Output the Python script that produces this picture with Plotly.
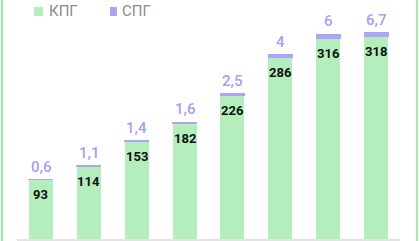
import plotly.graph_objects as go

categories = ["1", "2", "3", "4", "5", "6", "7", "8"]
kpg = [93, 114, 153, 182, 226, 286, 316, 318]
spg = [0.6, 1.1, 1.4, 1.6, 2.5, 4, 6, 6.7]
spg_labels = ["0,6", "1,1", "1,4", "1,6", "2,5", "4", "6", "6,7"]
series_names = ["КПГ", "СПГ"]

GREEN = "#b3eebc"
PURPLE = "#a9a6f6"
PURPLE_TXT = "#a4a0f2"
GREY_TXT = "#8c8c8c"

fig = go.Figure()
fig.add_bar(x=categories, y=kpg, name=series_names[0], marker=dict(color=GREEN, line=dict(width=0)))
fig.add_bar(x=categories, y=spg, name=series_names[1], marker=dict(color=PURPLE, line=dict(color=PURPLE, width=1)))

for i, (k, s, lab) in enumerate(zip(kpg, spg, spg_labels)):
    fig.add_annotation(x=i, y=k, text=str(k), showarrow=False, yshift=-15,
                       font=dict(family="Roboto", size=13, color="#111111", weight=700))
    fig.add_annotation(x=i, y=k + s, text=lab, showarrow=False, yshift=13,
                       font=dict(family="Roboto", size=15, color=PURPLE_TXT, weight=500))

# manual legend
fig.add_shape(type="rect", xref="paper", yref="paper", x0=0.0444, x1=0.0679, y0=0.933, y1=0.971,
              fillcolor=GREEN, line=dict(width=0))
fig.add_annotation(xref="paper", yref="paper", x=0.0783, y=0.954, xanchor="left", yanchor="middle",
                   text=series_names[0], showarrow=False,
                   font=dict(family="Roboto", size=15, color=GREY_TXT))
fig.add_shape(type="rect", xref="paper", yref="paper", x0=0.2428, x1=0.261, y0=0.933, y1=0.971,
              fillcolor=PURPLE, line=dict(width=0))
fig.add_annotation(xref="paper", yref="paper", x=0.269, y=0.954, xanchor="left", yanchor="middle",
                   text=series_names[1], showarrow=False,
                   font=dict(family="Roboto", size=15, color=GREY_TXT))

fig.add_shape(type="line", xref="paper", yref="paper", x0=-0.039, x1=-0.039, y0=-0.01, y1=1.0,
              line=dict(color="#9be8a6", width=2))
fig.add_shape(type="line", xref="paper", yref="paper", x0=1.044, x1=1.044, y0=-0.01, y1=1.0,
              line=dict(color="#9be8a6", width=2))

fig.update_layout(
    width=420, height=241,
    margin=dict(l=17, r=20, t=0, b=2),
    barmode="stack", bargap=0.5,
    paper_bgcolor="white", plot_bgcolor="white",
    showlegend=False,
    xaxis=dict(type="category", showticklabels=False, showgrid=False, zeroline=False,
               showline=True, linecolor="#e3e3e3", linewidth=2, ticks=""),
    yaxis=dict(range=[0, 376], visible=False, showgrid=False, zeroline=False),
)

fig.write_html("out.html")
